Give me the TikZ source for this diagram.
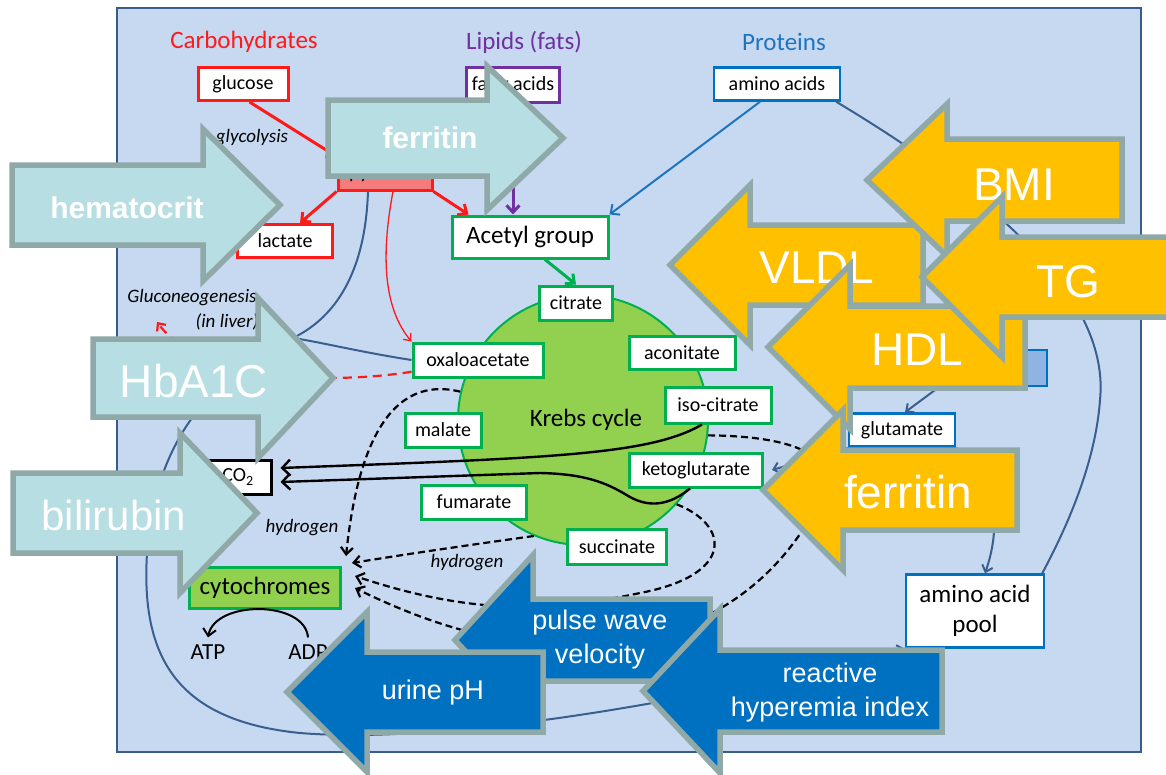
\documentclass[tikz,border=0pt]{standalone}
\usepackage{fontspec}
\setmainfont{Carlito}
\newfontfamily\arrowfont{Liberation Sans}
\usetikzlibrary{arrows.meta}

\definecolor{panelfill}{HTML}{C6D9F1}
\definecolor{paneldraw}{HTML}{385D8A}
\definecolor{carbred}{HTML}{FF1A1A}
\definecolor{pyrufill}{HTML}{F47C7C}
\definecolor{lipidpurple}{HTML}{7030A0}
\definecolor{protblue}{HTML}{1F74C0}
\definecolor{krebsgreen}{HTML}{92D050}
\definecolor{boxgreen}{HTML}{00B050}
\definecolor{loopblue}{HTML}{3A5F8F}
\definecolor{hidblue}{HTML}{8DB4E2}
\definecolor{tealfill}{HTML}{B7DEE2}
\definecolor{arrowedge}{HTML}{8FA8A8}
\definecolor{orangefill}{HTML}{FFC000}
\definecolor{bluefill}{HTML}{0070C0}

\newcommand{\txtsize}[2]{\fontsize{#1}{#2}\selectfont}
% tip x, centre y, head base x, tail x, head half height, body half height
\newcommand{\blockarrow}[7]{\draw[#1] (#2,#3) -- (#4,#3-#6) -- (#4,#3-#7) -- (#5,#3-#7) -- (#5,#3+#7) -- (#4,#3+#7) -- (#4,#3+#6) -- cycle;}

\begin{document}
\begin{tikzpicture}[x=1pt, y=-1pt,
  panel/.style={fill=panelfill, draw=paneldraw, line width=2pt},
  head/.style={font=\txtsize{25}{30}, inner sep=0pt},
  box/.style={draw, fill=white, line width=3pt, inner sep=0pt, font=\txtsize{20}{23}},
  krebsbox/.style={box, draw=boxgreen},
  protbox/.style={box, draw=bluefill, line width=2.5pt},
  note/.style={font=\itshape\txtsize{19}{22}, inner sep=0pt},
  redarrow/.style={draw=carbred, line width=3pt, -{Straight Barb[length=7pt,width=13pt]}},
  thinred/.style={draw=carbred, line width=1.3pt, -{Straight Barb[length=6pt,width=10pt]}},
  loopline/.style={draw=loopblue, line width=2pt},
  hyd/.style={draw=black, line width=2.2pt, dash pattern=on 7pt off 4pt, -{Straight Barb[length=7pt,width=12pt]}},
  co2arrow/.style={draw=black, line width=2.4pt, -{Straight Barb[length=8pt,width=16pt]}},
  tealarrow/.style={fill=tealfill, draw=arrowedge, line width=5.5pt},
  orangearrow/.style={fill=orangefill, draw=arrowedge, line width=5.5pt},
  bluearrow/.style={fill=bluefill, draw=arrowedge, line width=5.5pt},
  bigtext/.style={font=\arrowfont\txtsize{46}{50}, text=white, inner sep=0pt},
  smalltext/.style={font=\arrowfont\txtsize{27}{34}, text=white, inner sep=0pt, align=center}]

  \useasboundingbox (0,0) rectangle (1166,774);
  \draw[panel] (117,8) rectangle (1141,752);

  % Headings
  \node[head, text=carbred] (carb) at (244,42) {Carbohydrates};
  \node[head, text=lipidpurple] (lipids) at (524,42) {Lipids (fats)};
  \node[head, text=protblue] (prot) at (784,42) {Proteins};

  % Nodes
  \node[box, draw=carbred, minimum width=90, minimum height=33] (glucose) at (243,84) {glucose};
  \node[box, draw=lipidpurple, minimum width=93, minimum height=35] (fatty) at (513,85) {fatty acids};
  \node[protbox, minimum width=126, minimum height=33] (amino) at (777,84) {amino acids};
  \node[box, draw=carbred, fill=pyrufill, minimum width=94, minimum height=32] (pyruvate) at (385,174) {pyruvate};
  \node[box, draw=carbred, minimum width=95, minimum height=33] (lactate) at (285,241) {lactate};
  \node[krebsbox, font=\txtsize{25}{30}, minimum width=156, minimum height=42] (acetyl) at (530,237) {Acetyl group};
  \node[note] (glyco) at (252,138) {glycolysis};

  \node[circle, fill=krebsgreen, draw=boxgreen, line width=2pt, minimum size=250, font=\txtsize{25}{30}] (krebs) at (583,420) {\hspace*{6pt}Krebs cycle};
  \node[krebsbox, minimum width=73, minimum height=34] (citrate) at (576,303) {citrate};
  \node[krebsbox, minimum width=106, minimum height=33] (aconitate) at (682,353) {aconitate};
  \node[krebsbox, minimum width=106, minimum height=36] (isoc) at (718,405) {iso-citrate};
  \node[krebsbox, minimum width=133, minimum height=34] (ketog) at (696,470) {ketoglutarate};
  \node[krebsbox, minimum width=99, minimum height=35] (succ) at (617,547) {succinate};
  \node[krebsbox, minimum width=105, minimum height=34] (fum) at (474,502) {fumarate};
  \node[krebsbox, minimum width=76, minimum height=34] (malate) at (443,430) {malate};
  \node[krebsbox, minimum width=130, minimum height=34] (oxalo) at (478,360) {oxaloacetate};

  \node[box, draw=black, minimum width=66, minimum height=34] (co2) at (238,477) {CO\textsubscript{2}};
  \node[box, draw=boxgreen, fill=krebsgreen, font=\txtsize{25}{30}, minimum width=151, minimum height=41] (cyto) at (265,588) {cytochromes};
  \node[inner sep=1pt, font=\txtsize{23}{26}] (atp) at (208,652) {ATP};
  \node[inner sep=1pt, font=\txtsize{23}{26}] (adp) at (308,652) {ADP};

  \node[protbox, fill=hidblue, minimum width=118, minimum height=36] (aminobox) at (988,368) {};
  \node[protbox, minimum width=106, minimum height=33] (glutamate) at (902,430) {glutamate};
  \node[protbox, font=\txtsize{25}{30}, align=center, minimum width=138, minimum height=73] (pool) at (975,611) {amino acid\\pool};

  \node[note] (gluco) at (192,298) {Gluconeogenesis};
  \node[note] (liver) at (227,322) {(in liver)};
  \node[note] (hyd1) at (302,528) {hydrogen};
  \node[note] (hyd2) at (467,563) {hydrogen};
  \coordinate (gjunc) at (293,338);

  % Connectors
  \draw[redarrow] (glucose.-70) -- (pyruvate.north west);
  \draw[redarrow, {Straight Barb[length=7pt,width=13pt]}-] ([xshift=15pt]lactate.north) -- (pyruvate.south west);
  \draw[redarrow] (pyruvate.south east) -- ([xshift=18pt]acetyl.north west);
  \draw[draw=lipidpurple, line width=3pt, -{Straight Barb[length=7pt,width=13pt]}] (fatty.south) -- (fatty.south |- acetyl.north);
  \draw[draw=protblue, line width=2pt, -{Straight Barb[length=7pt,width=13pt]}] ([xshift=-17pt]amino.south) -- (acetyl.north east);
  \draw[draw=boxgreen, line width=3pt, -{Straight Barb[length=7pt,width=13pt]}] ([xshift=15pt]acetyl.south) -- (citrate.north);
  \draw[thinred] ([xshift=8pt]pyruvate.south) .. controls (380,260) and (385,310) .. (oxalo.north west);
  \draw[loopline] ([xshift=-17pt]pyruvate.south) .. controls (365,280) and (330,320) .. (gjunc)
    .. controls (220,372) and (160,430) .. (148,540) .. controls (138,650) and (170,720) .. (300,733);
  \draw[loopline, -{Straight Barb[length=6pt,width=11pt]}] (300,733) .. controls (450,745) and (700,700) .. (pool.south west);
  \draw[loopline] (oxalo.west) .. controls (360,352) and (320,342) .. (gjunc);
  \draw[draw=carbred, line width=2.2pt, dash pattern=on 9pt off 6pt, -{Straight Barb[length=6pt,width=11pt]}] (oxalo.190) .. controls (330,385) and (200,380) .. (157,322);
  \draw[loopline] ([xshift=-5pt]amino.south east) .. controls (1000,200) and (1110,300) .. (1100,400)
    .. controls (1095,470) and (1060,540) .. ([xshift=-3pt]pool.north east);
  \draw[loopline, -{Straight Barb[length=6pt,width=11pt]}] ([xshift=11pt]aminobox.south west) -- ([xshift=3pt]glutamate.north);
  \draw[loopline, -{Straight Barb[length=6pt,width=11pt]}] (glutamate.south west) -- ([xshift=8pt]ketog.east);
  \draw[loopline, -{Straight Barb[length=6pt,width=11pt]}] (glutamate.south east) .. controls (1000,480) and (1000,530) .. ([xshift=10pt]pool.north);

  \draw[co2arrow] ([xshift=-16pt]isoc.south) .. controls (650,455) and (550,458) .. ([xshift=8pt,yshift=9pt]co2.east);
  \draw[co2arrow] ([xshift=-6pt]ketog.south) .. controls (670,505) and (650,508) .. (630,497)
    .. controls (610,485) and (590,474) .. (540,473) -- ([xshift=8pt,yshift=-5pt]co2.east);

  \draw[hyd] (krebs.167) .. controls (380,372) and (355,470) .. ([xshift=4pt,yshift=10pt]cyto.north east);
  \draw[hyd] (krebs.247) .. controls (470,545) and (420,552) .. ([xshift=10pt,yshift=3pt]cyto.north east);
  \draw[hyd] (krebs.318) .. controls (730,525) and (735,575) .. (640,593)
    .. controls (560,610) and (480,618) .. ([xshift=13pt,yshift=-10pt]cyto.north east);
  \draw[hyd] (krebs.353) .. controls (780,436) and (845,450) .. (820,500)
    .. controls (790,560) and (740,610) .. (660,635) .. controls (560,660) and (460,640) .. ([xshift=13pt,yshift=-22pt]cyto.north east);

  \draw[draw=black, line width=2pt, -{Straight Barb[length=7pt,width=13pt]}] ([yshift=6pt]adp.north) .. controls (305,600) and (215,600) .. ([yshift=6pt]atp.north);

  % Markers
  \blockarrow{tealarrow}{280}{205}{203}{12}{76}{40}
  \node[bigtext, font=\arrowfont\bfseries\txtsize{30}{34}] (hemat) at (127,208) {hematocrit};
  \blockarrow{tealarrow}{563}{138}{487}{328}{72}{38}
  \node[bigtext, font=\arrowfont\bfseries\txtsize{30}{34}] (ferrteal) at (430,138) {ferritin};
  \blockarrow{tealarrow}{333}{378}{258}{93}{80}{39}
  \node[bigtext] (hba) at (194,381) {HbA1C};
  \blockarrow{tealarrow}{257}{513}{180}{13}{80}{40}
  \node[bigtext, font=\arrowfont\txtsize{42}{46}] (bili) at (114,515) {bilirubin};

  \blockarrow{orangearrow}{670}{265}{750}{923}{80}{40}
  \node[bigtext] (vldl) at (817,268) {VLDL};
  \blockarrow{orangearrow}{768}{347}{850}{1025}{82}{41}
  \node[bigtext] (hdl) at (917,350) {HDL};
  \blockarrow{orangearrow}{867}{180}{947}{1122}{76}{41}
  \node[bigtext] (bmi) at (1014,185) {BMI};
  \blockarrow{orangearrow}{922}{277}{1002}{1190}{80}{40}
  \node[bigtext] (tg) at (1068,282) {TG};
  \blockarrow{orangearrow}{763}{490}{843}{1017}{80}{40}
  \node[bigtext] (ferrorange) at (908,492) {ferritin};

  \blockarrow{bluearrow}{455}{640}{533}{710}{85}{41}
  \node[smalltext] (pwv) at (600,640) {pulse wave\\velocity};
  \blockarrow{bluearrow}{287}{692}{367}{543}{80}{40}
  \node[smalltext] (urine) at (433,693) {urine pH};
  \blockarrow{bluearrow}{643}{691}{720}{942}{82}{41}
  \node[smalltext] (rhi) at (830,693) {reactive\\hyperemia index};
\end{tikzpicture}
\end{document}
